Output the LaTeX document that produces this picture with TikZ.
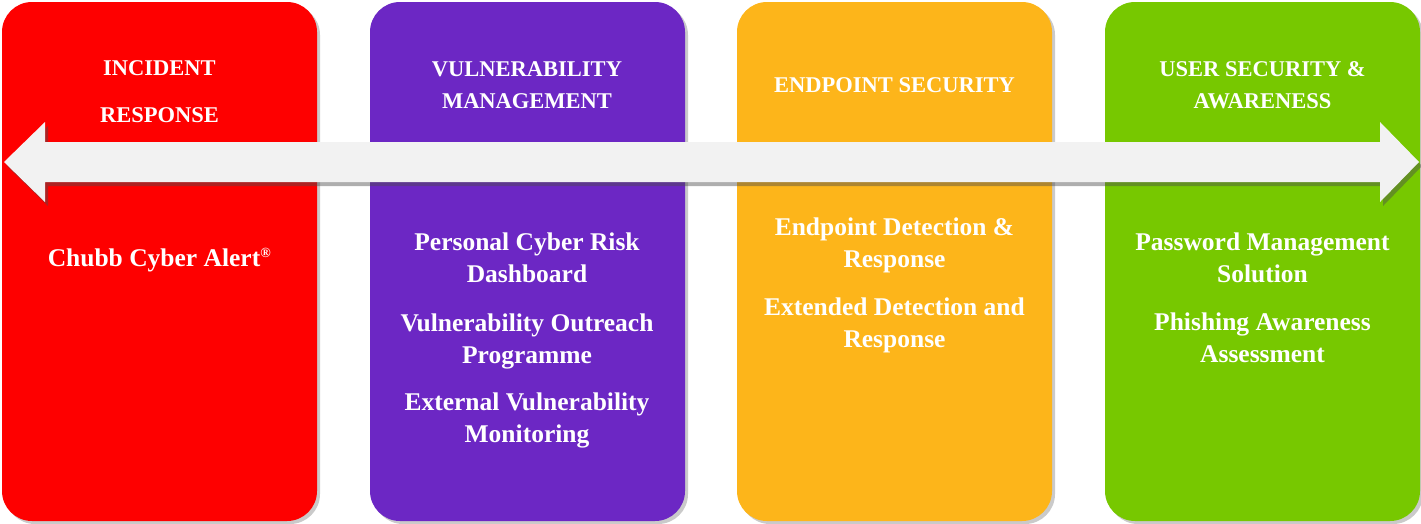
\documentclass[tikz,border=0pt]{standalone}
\usepackage{fontspec}
\setmainfont{Liberation Serif}
\usetikzlibrary{shadows}
\definecolor{cred}{HTML}{FE0000}
\definecolor{cpurple}{HTML}{6C27C4}
\definecolor{corange}{HTML}{FDB51A}
\definecolor{cgreen}{HTML}{77C800}
\definecolor{carrow}{HTML}{F2F2F2}
\tikzset{
  panel/.style={fill=#1, rounded corners=30pt,
    drop shadow={shadow xshift=3pt, shadow yshift=-3pt, opacity=0.35, fill=black!60}},
  head/.style={text=white, align=center, font=\bfseries\fontsize{22.5}{32}\selectfont, inner sep=0pt},
  item/.style={text=white, align=center, font=\bfseries\fontsize{25.5}{32}\selectfont, inner sep=0pt},
}
\begin{document}
\begin{tikzpicture}[x=1pt,y=-1pt]
\useasboundingbox (0,0) rectangle (1421,523);
% panels
\path[panel=cred]    (2,2)    rectangle (317,521);
\path[panel=cpurple] (370,2)  rectangle (685,521);
\path[panel=corange] (737,2)  rectangle (1052,521);
\path[panel=cgreen]  (1105,2) rectangle (1420,521);
% double arrow
\path[fill=carrow, drop shadow={shadow xshift=3pt, shadow yshift=-4pt, opacity=0.45, fill=black!70}]
  (4,162) -- (45,122) -- (45,142) -- (1380,142) -- (1380,122) -- (1419,162)
  -- (1380,202) -- (1380,182) -- (45,182) -- (45,202) -- cycle;
% headings
\node[head] (h1) at (159.5,92) {INCIDENT\\[15pt]RESPONSE};
\node[head] (h2) at (527,85) {VULNERABILITY\\MANAGEMENT};
\node[head] (h3) at (894.5,85) {ENDPOINT SECURITY};
\node[head] (h4) at (1262.5,85) {USER SECURITY \&\\AWARENESS};
% items
\node[item] (r1) at (159.5,260) {Chubb Cyber Alert\textsuperscript{\fontsize{14}{14}\selectfont ®}};
\node[item] (p1) at (527,258) {Personal Cyber Risk\\Dashboard};
\node[item] (p2) at (527,341) {Vulnerability Outreach\\Programme};
\node[item] (p3) at (527,420) {External Vulnerability\\Monitoring};
\node[item] (o1) at (894.5,245.5) {Endpoint Detection \&\\Response};
\node[item] (o2) at (894.5,325) {Extended Detection and\\Response};
\node[item] (g1) at (1262.5,258) {Password Management\\Solution};
\node[item] (g2) at (1262.5,338) {Phishing Awareness\\Assessment};
\end{tikzpicture}
\end{document}
